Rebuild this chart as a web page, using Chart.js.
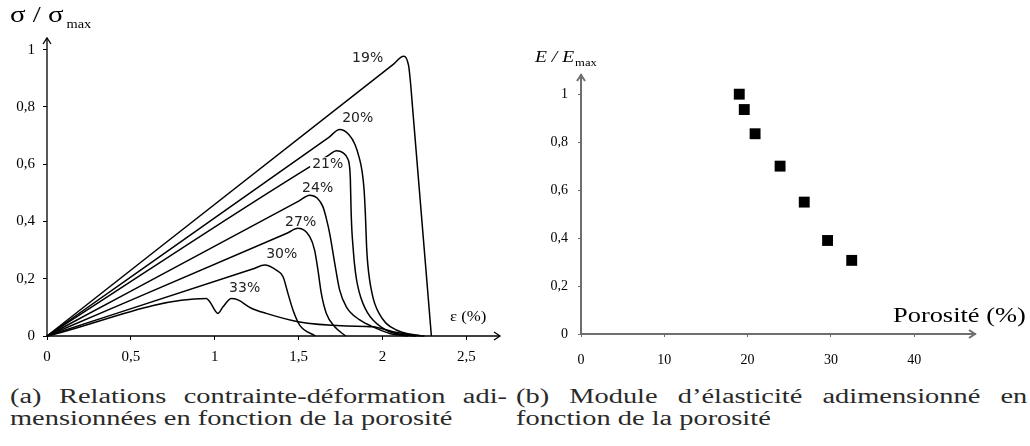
<!DOCTYPE html>
<html>
<head>
<meta charset="utf-8">
<script src="https://cdn.jsdelivr.net/npm/chart.js@4.4.1/dist/chart.umd.min.js"></script>
<style>
  html, body { margin: 0; padding: 0; background: #fff; }
  body { width: 1030px; height: 446px; position: relative; overflow: hidden; }
  canvas { position: absolute; top: 0; }
  #stressChart { left: 0; }
  #modulusChart { left: 515px; }
  .cap {
    position: absolute;
    font-family: "Liberation Serif", "Times New Roman", serif;
    font-size: 20px;
    line-height: 22px;
    color: #2a2a2a;
    transform: scaleX(1.42);
    transform-origin: 0 0;
    white-space: nowrap;
  }
  .cap .first { text-align: justify; text-align-last: justify; }
</style>
</head>
<body>
<canvas id="stressChart" width="515" height="370"></canvas>
<canvas id="modulusChart" width="515" height="370"></canvas>

<div class="cap" style="left:10px; top:385px; width:350px;">
  <div class="first">(a) Relations contrainte-déformation adi-</div>
  <div>mensionnées en fonction de la porosité</div>
</div>
<div class="cap" style="left:516px; top:385px; width:360px;">
  <div class="first">(b) Module d’élasticité adimensionné en</div>
  <div>fonction de la porosité</div>
</div>

<script>
// Stress-strain curves (strain in %, stress / max stress), one pair per porosity
const strain19 = [0, 2.06, 2.126, 2.14, 2.155, 2.165, 2.18, 2.291];
const stress19 = [0, 0.947, 0.977, 0.972, 0.945, 0.895, 0.79, 0];

const strain20 = [0, 1.68, 1.744, 1.8, 1.835, 1.86, 1.878, 1.89, 1.898, 1.905, 1.912, 1.923, 1.937, 1.953, 1.98, 2.02, 2.082, 2.15, 2.221];
const stress20 = [0, 0.694, 0.721, 0.703, 0.67, 0.625, 0.575, 0.51, 0.42, 0.31, 0.25, 0.195, 0.15, 0.114, 0.078, 0.045, 0.021, 0.008, 0.002];

const strain21 = [0, 1.68, 1.725, 1.765, 1.79, 1.802, 1.808, 1.812, 1.817, 1.824, 1.833, 1.844, 1.86, 1.883, 1.91, 1.943, 1.99, 2.042, 2.142, 2.2];
const stress21 = [0, 0.632, 0.647, 0.64, 0.622, 0.598, 0.55, 0.45, 0.37, 0.312, 0.25, 0.2, 0.155, 0.114, 0.082, 0.056, 0.032, 0.015, 0.003, 0];

const strain24 = [0, 1.5, 1.566, 1.61, 1.645, 1.665, 1.685, 1.715, 1.744, 1.784, 1.864, 1.963, 2.042, 2.15];
const stress24 = [0, 0.471, 0.492, 0.482, 0.451, 0.41, 0.358, 0.254, 0.161, 0.102, 0.056, 0.027, 0.009, 0];

const strain27 = [0, 1.43, 1.496, 1.566, 1.595, 1.615, 1.635, 1.665, 1.715, 1.78];
const stress27 = [0, 0.359, 0.376, 0.347, 0.3, 0.23, 0.149, 0.079, 0.032, 0];

const strain30 = [0, 1.23, 1.297, 1.367, 1.407, 1.436, 1.466, 1.506, 1.6];
const stress30 = [0, 0.235, 0.248, 0.23, 0.207, 0.149, 0.091, 0.038, 0];

const strain33 = [0, 0.95, 0.97, 1.019, 1.049, 1.099, 1.138, 1.218, 1.307, 1.496, 1.784, 1.943, 2.062, 2.181, 2.25];
const stress33 = [0, 0.131, 0.12, 0.079, 0.102, 0.131, 0.126, 0.097, 0.079, 0.05, 0.035, 0.032, 0.015, 0.003, 0];

const curveNames = ["19%", "20%", "21%", "24%", "27%", "30%", "33%"];

const strainTicks = [0, 0.5, 1, 1.5, 2, 2.5];
const strainTickLabels = ["0", "0,5", "1", "1,5", "2", "2,5"];
const stressTicks = [0, 0.2, 0.4, 0.6, 0.8, 1];
const stressTickLabels = ["0", "0,2", "0,4", "0,6", "0,8", "1"];

// Young's modulus ratio vs porosity
const porosity = [19.0, 19.6, 20.9, 23.9, 26.8, 29.6, 32.5];
const modulus = [1.0, 0.936, 0.835, 0.70, 0.55, 0.39, 0.307];

const porosityTicks = [0, 10, 20, 30, 40];
const porosityTickLabels = ["0", "10", "20", "30", "40"];
const modulusTicks = [0, 0.2, 0.4, 0.6, 0.8, 1];
const modulusTickLabels = ["0", "0,2", "0,4", "0,6", "0,8", "1"];

const curves = [
  [strain19, stress19], [strain20, stress20], [strain21, stress21],
  [strain24, stress24], [strain27, stress27], [strain30, stress30],
  [strain33, stress33],
];

// where the porosity labels sit, in data units (strain, stress)
const labelAt = [
  [1.911, 0.97], [1.852, 0.761], [1.673, 0.6], [1.613, 0.517],
  [1.512, 0.398], [1.399, 0.286], [1.178, 0.168],
];

function toPoints(xs, ys) {
  return xs.map((x, i) => ({ x: x, y: ys[i] }));
}

// stretched serif text, like the original figure
function wideText(ctx, text, x, y, font, sx) {
  ctx.save();
  ctx.font = font;
  ctx.translate(x, y);
  ctx.scale(sx, 1);
  ctx.fillText(text, 0, 0);
  const w = ctx.measureText(text).width * sx;
  ctx.restore();
  return w;
}

function arrowUp(ctx, x, y) {
  ctx.beginPath();
  ctx.moveTo(x - 4, y + 6);
  ctx.lineTo(x, y);
  ctx.lineTo(x + 4, y + 6);
  ctx.stroke();
}

function arrowRight(ctx, x, y) {
  ctx.beginPath();
  ctx.moveTo(x - 6, y - 4);
  ctx.lineTo(x, y);
  ctx.lineTo(x - 6, y + 4);
  ctx.stroke();
}

const stressDecor = {
  id: "stressDecor",
  afterDatasetsDraw(chart) {
    const ctx = chart.ctx;
    const a = chart.chartArea;
    const xs = chart.scales.x;
    const ys = chart.scales.y;

    ctx.save();
    ctx.strokeStyle = "#000";
    ctx.lineWidth = 1.3;
    ctx.beginPath();
    ctx.moveTo(a.left, a.top);
    ctx.lineTo(a.left, a.bottom);
    ctx.lineTo(a.right, a.bottom);
    ctx.stroke();
    arrowUp(ctx, a.left, a.top);
    arrowRight(ctx, a.right, a.bottom);

    // porosity labels on the curves
    ctx.font = '14px "DejaVu Sans"';
    ctx.textAlign = "center";
    ctx.textBaseline = "middle";
    curveNames.forEach((name, i) => {
      const px = xs.getPixelForValue(labelAt[i][0]);
      const py = ys.getPixelForValue(labelAt[i][1]);
      if (name === "21%") {
        const w = ctx.measureText(name).width;
        ctx.fillStyle = "#fff";
        ctx.fillRect(px - w / 2 - 2, py - 7, w + 4, 14);
      }
      ctx.fillStyle = "#222";
      ctx.fillText(name, px, py);
    });

    // axis titles
    ctx.fillStyle = "#000";
    ctx.textAlign = "left";
    ctx.textBaseline = "alphabetic";
    const w = wideText(ctx, "σ / σ", 10, 22, '24px "Liberation Serif"', 1.2);
    wideText(ctx, "max", 10 + w + 3, 28, '12px "Liberation Serif"', 1.2);
    wideText(ctx, "ε (%)", 450, 321, '14px "Liberation Serif"', 1.2);
    ctx.restore();
  },
};

const modulusDecor = {
  id: "modulusDecor",
  afterDatasetsDraw(chart) {
    const ctx = chart.ctx;
    const a = chart.chartArea;
    ctx.save();
    ctx.strokeStyle = "#6e6e6e";
    ctx.lineWidth = 2;
    arrowUp(ctx, a.left, a.top);
    arrowRight(ctx, a.right, a.bottom);

    ctx.fillStyle = "#000";
    ctx.textAlign = "left";
    ctx.textBaseline = "alphabetic";
    const w = wideText(ctx, "E / E", 20, 62, 'italic 17px "Liberation Serif"', 1.15);
    wideText(ctx, "max", 20 + w + 1, 66, '11px "Liberation Serif"', 1.15);
    wideText(ctx, "Porosité (%)", 378, 322, '22px "Liberation Serif"', 1.2);
    ctx.restore();
  },
};

function fixedTicks(values) {
  return function (scale) {
    scale.ticks = values.map((v) => ({ value: v }));
  };
}

document.addEventListener("DOMContentLoaded", function () {
  // Stress-strain chart
  const stressCtx = document.getElementById("stressChart");
  new Chart(stressCtx.getContext("2d"), {
    type: "scatter",
    data: {
      datasets: curves.map((c, i) => ({
        label: curveNames[i],
        data: toPoints(c[0], c[1]),
        showLine: true,
        borderColor: "#000",
        borderWidth: 1.5,
        pointRadius: 0,
        cubicInterpolationMode: "monotone",
        clip: false,
      })),
    },
    options: {
      responsive: false,
      animation: false,
      layout: { padding: { left: 0, top: 38, right: 15, bottom: 0 } },
      plugins: { legend: { display: false }, tooltip: { enabled: false } },
      scales: {
        x: {
          type: "linear",
          min: 0,
          max: 2.7,
          afterBuildTicks: fixedTicks(strainTicks),
          afterFit: (s) => { s.height = 34; },
          grid: { drawOnChartArea: false, drawTicks: true, tickLength: 4, color: "#000", lineWidth: 1 },
          border: { display: false },
          ticks: {
            autoSkip: false,
            maxRotation: 0,
            padding: 8,
            color: "#000",
            font: { family: "Liberation Serif", size: 15 },
            callback: (v, i) => strainTickLabels[i],
          },
        },
        y: {
          type: "linear",
          min: 0,
          max: 1.041,
          afterBuildTicks: fixedTicks(stressTicks),
          afterFit: (s) => { s.width = 47; },
          grid: { drawOnChartArea: false, drawTicks: true, tickLength: 4, color: "#000", lineWidth: 1 },
          border: { display: false },
          ticks: {
            autoSkip: false,
            padding: 8,
            color: "#000",
            font: { family: "Liberation Serif", size: 15 },
            callback: (v, i) => stressTickLabels[i],
          },
        },
      },
    },
    plugins: [stressDecor],
  });

  // Modulus vs porosity chart
  const modulusCtx = document.getElementById("modulusChart");
  new Chart(modulusCtx.getContext("2d"), {
    type: "scatter",
    data: {
      datasets: [
        {
          label: "E/Emax",
          data: toPoints(porosity, modulus),
          pointStyle: "rect",
          pointRadius: 7.7,
          pointBackgroundColor: "#000",
          pointBorderWidth: 0,
        },
      ],
    },
    options: {
      responsive: false,
      animation: false,
      layout: { padding: { left: 0, top: 75, right: 55, bottom: 0 } },
      plugins: { legend: { display: false }, tooltip: { enabled: false } },
      scales: {
        x: {
          type: "linear",
          min: 0,
          max: 47.3,
          afterBuildTicks: fixedTicks(porosityTicks),
          afterFit: (s) => { s.height = 36; },
          grid: { drawOnChartArea: false, drawTicks: true, tickLength: 3, color: "#6e6e6e", lineWidth: 1 },
          border: { display: true, color: "#6e6e6e", width: 2 },
          ticks: {
            autoSkip: false,
            maxRotation: 0,
            padding: 15,
            color: "#000",
            font: { family: "Liberation Serif", size: 14 },
            callback: (v, i) => porosityTickLabels[i],
          },
        },
        y: {
          type: "linear",
          min: 0,
          max: 1.08,
          afterBuildTicks: fixedTicks(modulusTicks),
          afterFit: (s) => { s.width = 66; },
          grid: { drawOnChartArea: false, drawTicks: true, tickLength: 3, color: "#6e6e6e", lineWidth: 1 },
          border: { display: true, color: "#6e6e6e", width: 2 },
          ticks: {
            autoSkip: false,
            padding: 10,
            color: "#000",
            font: { family: "Liberation Serif", size: 14 },
            callback: (v, i) => modulusTickLabels[i],
          },
        },
      },
    },
    plugins: [modulusDecor],
  });
});
</script>
</body>
</html>
